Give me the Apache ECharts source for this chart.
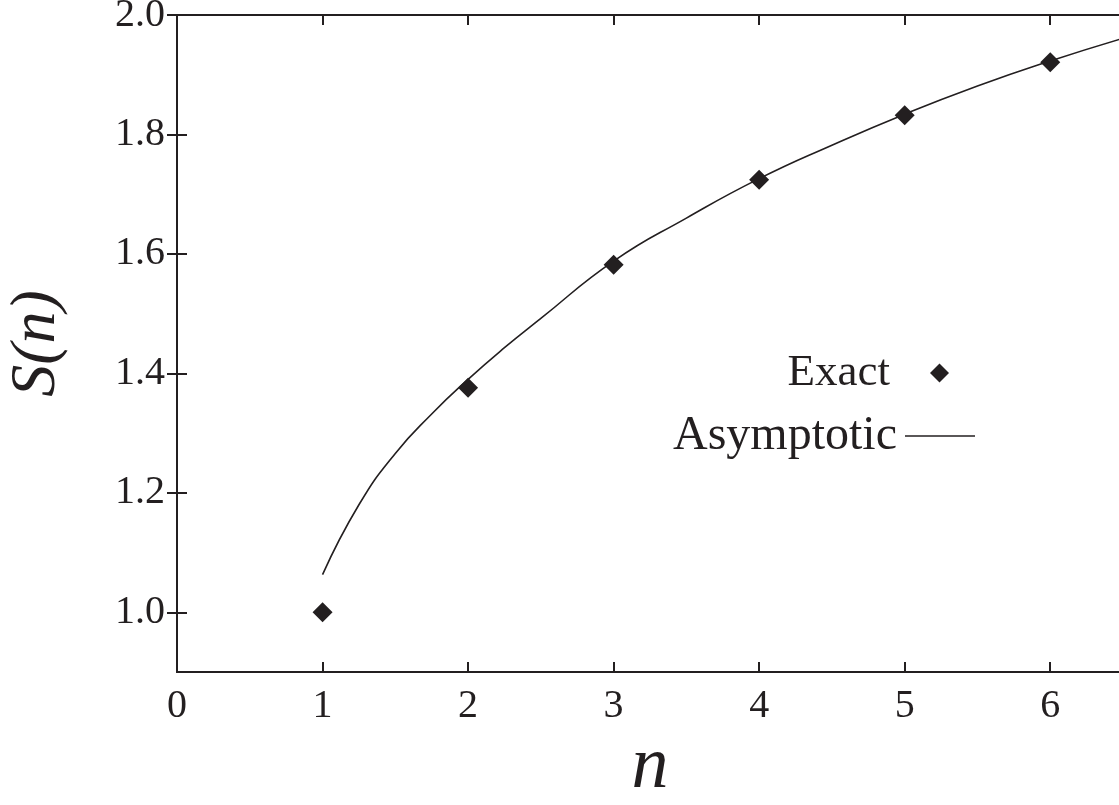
<!DOCTYPE html>
<html>
<head>
<meta charset="utf-8">
<script src="https://cdn.jsdelivr.net/npm/echarts@6/dist/echarts.min.js"></script>
<style>
html,body{margin:0;padding:0;background:#fff;}
#c{width:1119px;height:805px;}
</style>
</head>
<body>
<div id="c"></div>
<script>
// ---- data ----
const nTicks = [0, 1, 2, 3, 4, 5, 6];
const sTicks = [1.0, 1.2, 1.4, 1.6, 1.8, 2.0];
const exactN = [1, 2, 3, 4, 5, 6];
const exactS = [1.000, 1.376, 1.582, 1.724, 1.832, 1.921];
const asymN = [1.0, 1.25, 1.5, 1.75, 2.0, 2.25, 2.5, 3.0, 3.5, 4.0, 4.5, 5.0, 5.5, 6.0, 6.5];
const asymS = [1.063, 1.180, 1.266, 1.332, 1.390, 1.443, 1.492, 1.588, 1.660, 1.726, 1.782, 1.834, 1.881, 1.923, 1.961];
const seriesNames = ['Exact', 'Asymptotic'];
const xName = 'n';
const yName = 'S(n)';

const ink = '#231f20';
const serif = '"Liberation Serif", "DejaVu Serif", serif';

const chart = echarts.init(document.getElementById('c'), null, {renderer: 'canvas'});

const axisLine = {show: true, lineStyle: {color: ink, width: 2}};
const tickStyle = {lineStyle: {color: ink, width: 2}};

chart.setOption({
  animation: false,
  backgroundColor: '#fff',
  grid: {left: 177, top: 15, width: 946, height: 657, containLabel: false, outerBoundsMode: 'none'},
  legend: [
    {
      data: [{name: seriesNames[0]}],
      align: 'right',
      right: 170, top: 348,
      padding: 0,
      itemWidth: 19, itemHeight: 19,
      selectedMode: false,
      textStyle: {fontFamily: serif, fontSize: 45, color: ink, lineHeight: 50, padding: [0, 35, 0, 0]}
    },
    {
      data: [{name: seriesNames[1], icon: 'rect'}],
      align: 'right',
      right: 144, top: 411,
      padding: 0,
      itemWidth: 70, itemHeight: 1.6,
      selectedMode: false,
      itemStyle: {color: ink},
      textStyle: {fontFamily: serif, fontSize: 48, color: ink, lineHeight: 50, padding: [0, 3, 0, 0]}
    }
  ],
  xAxis: [
    {
      type: 'value', min: 0, max: 6.5, interval: 1,
      position: 'bottom',
      name: xName, nameLocation: 'middle', nameGap: 56,
      nameTextStyle: {fontFamily: serif, fontStyle: 'italic', fontSize: 74, color: ink},
      axisLine: axisLine,
      axisTick: Object.assign({show: true, inside: true, length: 10, customValues: nTicks}, tickStyle),
      axisLabel: {show: true, customValues: nTicks, margin: 14, fontFamily: serif, fontSize: 40, color: ink},
      splitLine: {show: false}
    },
    {
      type: 'value', min: 0, max: 6.5, interval: 1,
      position: 'top',
      axisLine: axisLine,
      axisTick: Object.assign({show: true, inside: true, length: 10, customValues: nTicks}, tickStyle),
      axisLabel: {show: false},
      splitLine: {show: false}
    }
  ],
  yAxis: [
    {
      type: 'value', min: 0.9, max: 2.0, interval: 0.1,
      position: 'left',
      name: yName, nameLocation: 'middle', nameGap: 108,
      nameTextStyle: {fontFamily: serif, fontStyle: 'italic', fontSize: 64, color: ink},
      axisLine: axisLine,
      axisTick: Object.assign({show: true, inside: true, length: 10, customValues: sTicks}, tickStyle),
      axisLabel: {show: true, customValues: sTicks, margin: 12, fontFamily: serif, fontSize: 40, color: ink,
        formatter: v => Number(v).toFixed(1)},
      splitLine: {show: false}
    },
    {
      type: 'value', min: 0.9, max: 2.0, interval: 0.1,
      position: 'right',
      axisLine: axisLine,
      axisTick: Object.assign({show: true, inside: true, length: 10, customValues: sTicks}, tickStyle),
      axisLabel: {show: false},
      splitLine: {show: false}
    }
  ],
  series: [
    {
      name: seriesNames[1],
      type: 'line',
      xAxisIndex: 0, yAxisIndex: 0,
      data: asymN.map((n, i) => [n, asymS[i]]),
      smooth: 0.5,
      symbol: 'none',
      lineStyle: {color: ink, width: 1.6},
      itemStyle: {color: ink},
      z: 2
    },
    {
      name: seriesNames[0],
      type: 'scatter',
      xAxisIndex: 0, yAxisIndex: 0,
      data: exactN.map((n, i) => [n, exactS[i]]),
      symbol: 'diamond',
      symbolSize: 20,
      itemStyle: {color: ink, opacity: 1},
      z: 3
    }
  ]
});
</script>
</body>
</html>
